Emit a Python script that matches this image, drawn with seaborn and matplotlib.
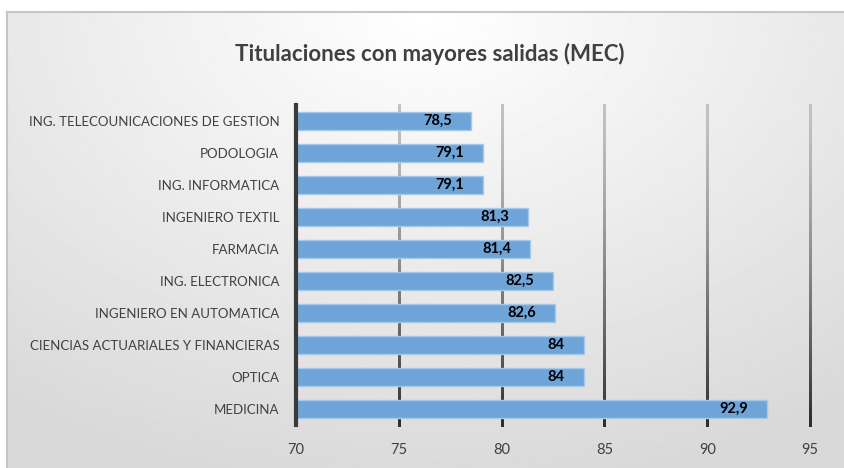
import numpy as np
import pandas as pd
import matplotlib
matplotlib.use("Agg")
import matplotlib.pyplot as plt
import seaborn as sns
from matplotlib.collections import LineCollection

# data (top to bottom as in the chart)
titulaciones = ["ING. TELECOUNICACIONES DE GESTION", "PODOLOGIA", "ING. INFORMATICA",
                "INGENIERO TEXTIL", "FARMACIA", "ING. ELECTRONICA",
                "INGENIERO EN AUTOMATICA", "CIENCIAS ACTUARIALES Y FINANCIERAS",
                "OPTICA", "MEDICINA"]
valores = [78.5, 79.1, 79.1, 81.3, 81.4, 82.5, 82.6, 84, 84, 92.9]
etiquetas = ["78,5", "79,1", "79,1", "81,3", "81,4", "82,5", "82,6", "84", "84", "92,9"]
x_ticks = [70, 75, 80, 85, 90, 95]

df = pd.DataFrame({"Titulacion": titulaciones, "Valor": valores})

sns.set_style("white")
plt.rcParams["font.family"] = ["Lato", "DejaVu Sans"]

fig = plt.figure(figsize=(8.44, 4.68), dpi=100)
fig.patch.set_facecolor("white")

# background panel with radial gradient
bg = fig.add_axes([7 / 844, 0, 1 - 7 / 844, 1 - 12 / 468], zorder=-10)
yy, xx = np.mgrid[0:1:300j, 0:1:600j]
dist = np.sqrt(((xx - 0.5) * 1.25) ** 2 + (yy * 1.0) ** 2)
shade = 1.0 - 0.15 * np.clip(dist / 1.05, 0, 1)
bg.imshow(shade, cmap="gray", vmin=0, vmax=1, aspect="auto", extent=[0, 1, 0, 1],
          origin="upper")
bg.set_xticks([])
bg.set_yticks([])
for side in ["right", "bottom"]:
    bg.spines[side].set_visible(False)
for side in ["top", "left"]:
    bg.spines[side].set_color("#c6c6c6")
    bg.spines[side].set_linewidth(1.5)

ax = fig.add_axes([296 / 844, 1 - 425 / 468, (810 - 296) / 844, (425 - 105) / 468])
ax.patch.set_alpha(0)

sns.barplot(data=df, x="Valor", y="Titulacion", orient="h", color="#6fa4d8",
            saturation=1, width=0.56, edgecolor="#a6c9ea", linewidth=1, ax=ax, zorder=3)

ax.set_xlim(70, 95)
ax.set_ylim(9.5, -0.5)
ax.set_xticks(x_ticks)
ax.set_xlabel("")
ax.set_ylabel("")

# gridlines: light at top, dark at bottom
for xt in x_ticks[1:]:
    ys = np.linspace(-0.5, 9.5, 80)
    segs = [[(xt, ys[i]), (xt, ys[i + 1])] for i in range(len(ys) - 1)]
    t = np.linspace(0, 1, len(segs)) ** 1.4
    cols = [(0.76 - 0.58 * v, 0.76 - 0.58 * v, 0.76 - 0.58 * v) for v in t]
    lc = LineCollection(segs, colors=cols, linewidths=2, zorder=1,
                        antialiaseds=False, capstyle="projecting")
    lc.set_clip_on(False)
    ax.add_collection(lc)

for side in ["top", "right", "bottom"]:
    ax.spines[side].set_visible(False)
ax.spines["left"].set_color("#3a3a3a")
ax.spines["left"].set_linewidth(3)
ax.spines["left"].set_zorder(5)

ax.tick_params(axis="y", length=0, labelsize=9.5, labelcolor="#404040", pad=12)
ax.tick_params(axis="x", length=0, labelsize=10.5, labelcolor="#404040", pad=13)

for i, (v, lab) in enumerate(zip(valores, etiquetas)):
    ax.annotate(lab, xy=(v, i), xytext=(-19, 0), textcoords="offset pixels",
                ha="right", va="center", fontsize=10.5, fontweight="bold",
                color="black", zorder=6)

fig.text(430 / 844, 1 - 54 / 468, "Titulaciones con mayores salidas (MEC)", ha="center",
         va="center", fontsize=16, fontweight="bold", color="#404040")

fig.savefig("out.png", dpi=100)
